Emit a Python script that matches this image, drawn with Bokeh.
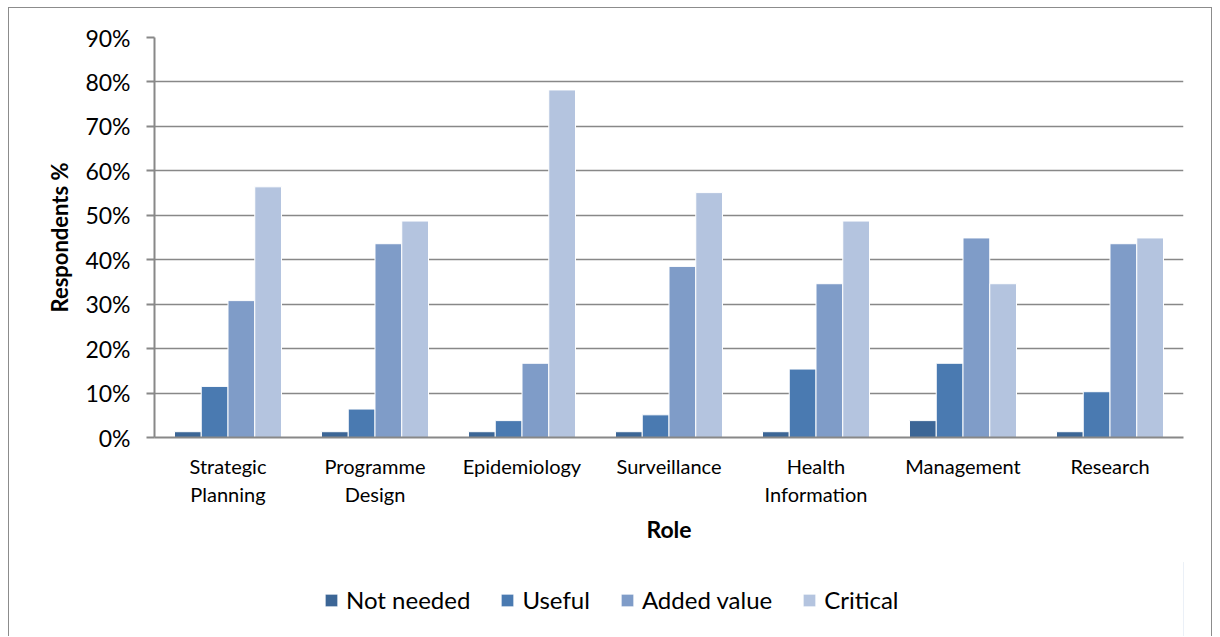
from bokeh.plotting import figure
from bokeh.layouts import column
from bokeh.models import FactorRange, Range1d, FixedTicker, PrintfTickFormatter, Legend, LegendItem, ColumnDataSource
from bokeh.transform import dodge
from bokeh.embed import file_html
from bokeh.resources import INLINE

roles = ["Strategic\nPlanning", "Programme\nDesign", "Epidemiology", "Surveillance",
         "Health\nInformation", "Management", "Research"]
series = ["Not needed", "Useful", "Added value", "Critical"]
not_needed = [1.3, 1.3, 1.3, 1.3, 1.3, 3.8, 1.3]
useful = [11.5, 6.4, 3.8, 5.1, 15.4, 16.7, 10.3]
added_value = [30.8, 43.6, 16.7, 38.5, 34.6, 44.9, 43.6]
critical = [56.4, 48.7, 78.2, 55.1, 48.7, 34.6, 44.9]
y_ticks = [0, 10, 20, 30, 40, 50, 60, 70, 80, 90]

colors = ["#3C6696", "#4A7AB1", "#7F9CC8", "#B4C4DF"]
FONT = "Lato"

source = ColumnDataSource(dict(role=roles, s0=not_needed, s1=useful, s2=added_value, s3=critical))

p = figure(frame_width=1029, frame_height=400, x_range=FactorRange(factors=roles, range_padding=0),
           y_range=Range1d(0, 90), output_backend="svg", toolbar_location=None,
           min_border_left=145, min_border_right=28, min_border_top=29, min_border_bottom=125)
p.outline_line_color = None
p.background_fill_color = "white"
p.border_fill_color = "white"

w = 0.182
for i, key in enumerate(["s0", "s1", "s2", "s3"]):
    p.vbar(x=dodge("role", (i - 1.5) * w, range=p.x_range), top=key, width=w, source=source,
           fill_color=colors[i], line_color="white", line_width=1)

# axes
p.yaxis.ticker = FixedTicker(ticks=y_ticks)
p.yaxis.formatter = PrintfTickFormatter(format="%d%%")
p.yaxis.axis_label = "Respondents %"
p.yaxis.axis_label_text_font = FONT
p.yaxis.axis_label_text_font_style = "bold"
p.yaxis.axis_label_text_font_size = "22px"
p.yaxis.axis_label_text_color = "black"
p.yaxis.axis_label_standoff = 9
p.yaxis.major_label_text_font = FONT
p.yaxis.major_label_text_font_size = "23px"
p.yaxis.major_label_text_color = "black"
p.yaxis.major_label_standoff = 16
p.yaxis.major_tick_out = 8
p.yaxis.major_tick_in = 0
p.yaxis.minor_tick_line_color = None
p.yaxis.axis_line_color = "#888888"
p.yaxis.axis_line_width = 2
p.yaxis.major_tick_line_color = "#888888"
p.yaxis.major_tick_line_width = 2

p.xaxis.axis_label = "Role"
p.xaxis.axis_label_text_font = FONT
p.xaxis.axis_label_text_font_style = "bold"
p.xaxis.axis_label_text_font_size = "23px"
p.xaxis.axis_label_text_color = "black"
p.xaxis.axis_label_standoff = 6
p.xaxis.major_label_text_font = FONT
p.xaxis.major_label_text_font_size = "20px"
p.xaxis.major_label_text_color = "black"
p.xaxis.major_label_standoff = 16
p.xaxis.major_tick_line_color = None
p.xaxis.major_tick_out = 0
p.xaxis.axis_line_color = "#888888"
p.xaxis.axis_line_width = 2

p.xgrid.grid_line_color = None
p.ygrid.grid_line_color = "#888888"
p.ygrid.grid_line_width = 1.5
p.ygrid.ticker = FixedTicker(ticks=y_ticks)

# legend strip below the chart (its frame is aligned with the chart's frame)
lg = figure(width=1202, height=74, x_range=Range1d(0, 1), y_range=Range1d(0, 1),
            output_backend="svg", toolbar_location=None,
            x_axis_location=None, y_axis_location=None,
            min_border_left=0, min_border_right=0, min_border_top=0, min_border_bottom=0)
lg.outline_line_color = None
lg.grid.visible = False
lg.border_fill_color = "white"
items = []
for i, name in enumerate(series):
    # keyed swatch only: the single mark sits outside the visible range
    r = lg.vbar(x=[5], top=[1], width=0.1, fill_color=colors[i], line_color="white", line_width=1)
    items.append(LegendItem(label=name, renderers=[r]))
legend = Legend(items=items, orientation="horizontal", location=(169, 22),
                label_text_font=FONT, label_text_font_size="24px", label_text_color="black",
                glyph_width=16, glyph_height=16, label_standoff=7, spacing=29,
                border_line_color=None, background_fill_alpha=0, margin=0, padding=4)
lg.add_layout(legend, "center")

layout = column(p, lg, spacing=0)
layout.styles = {"border": "1px solid #8c8c8c", "border-bottom": "none",
                 "margin-left": "8px", "margin-top": "7px"}

open("out.html", "w").write(file_html(layout, INLINE))
